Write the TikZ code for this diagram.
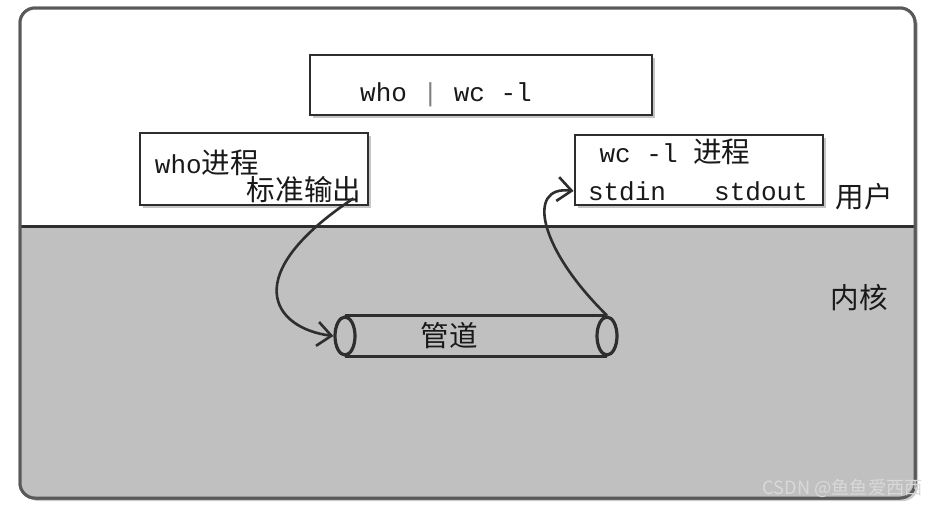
\documentclass[tikz,border=0pt]{standalone}
\usepackage{fontspec}
\setmainfont{Liberation Mono}
\newfontfamily\cjk{Noto Sans CJK SC}[Scale=1.1]
\usetikzlibrary{arrows.meta, shadows, shapes.geometric}
\definecolor{kernel-gray}{HTML}{C0C0C0}
\definecolor{sketch-ink}{HTML}{2E2E2E}

\begin{document}
\begin{tikzpicture}[x=0.5pt, y=-0.5pt,
      every node/.style={font=\fontsize{13}{15}\selectfont, text=black!90},
      box/.style={draw=sketch-ink, line width=1.4pt, fill=white, inner sep=0pt,
        drop shadow={shadow xshift=1.5pt, shadow yshift=-1.5pt, opacity=0.45}},
      pipeend/.style={ellipse, draw=sketch-ink, line width=1.6pt,
        minimum width=10pt, minimum height=19pt, inner sep=0pt},
      flow/.style={draw=sketch-ink, line width=1.3pt,
        -{Straight Barb[length=7pt, width=12pt]}}]
    \useasboundingbox (0,0) rectangle (936,505);
    % frame: user space above, kernel below
    \draw[gray!70!black, line width=1.5pt, rounded corners=7.5pt, fill=white,
          drop shadow={shadow xshift=1.5pt, shadow yshift=-1.5pt, opacity=0.4}]
          (20,8) rectangle (915,498);
    \begin{scope}
      \clip[rounded corners=7.5pt] (20,8) rectangle (915,498);
      \fill[white] (20,8) rectangle (915,226);
      \fill[kernel-gray] (20,226) rectangle (915,498);
    \end{scope}
    \draw[sketch-ink, line width=1.5pt] (20,226) -- (915,226);
    \draw[gray!70!black, line width=1.5pt, rounded corners=7.5pt]
          (20,8) rectangle (915,498);
    % command line
    \node[box, minimum width=171pt, minimum height=30pt] (cmdbox) at (481,85) {};
    \node (cmd) at (446,95) {who \textcolor{gray}{|} wc -l};
    % processes
    \node[box, minimum width=114pt, minimum height=36pt] (whobox) at (254,169) {};
    \node (whoproc) at (207,163) {who{\cjk 进程}};
    \node (whoout) at (304,190) {\cjk 标准输出};
    \node[box, minimum width=124pt, minimum height=35pt] (wcbox) at (699,170) {};
    \node (wcproc) at (675,152) {wc -l {\cjk 进程}};
    \node (stdin) at (627,191) {stdin};
    \node (stdout) at (761,191) {stdout};
    \node (user) at (864,197) {\cjk 用户};
    \node (kernel) at (859,298) {\cjk 内核};
    % the pipe
    \node[pipeend] (pipein) at (345,336) {};
    \node[pipeend] (pipeout) at (607,336) {};
    \draw[sketch-ink, line width=1.6pt] (pipein.north) -- (pipeout.north)
          (pipein.south) -- (pipeout.south);
    \node (pipelabel) at (449,336) {\cjk 管道};
    \draw[flow] ([xshift=-8pt, yshift=4pt]whobox.south east)
          .. controls (238,275) and (272,328) .. (pipein.west);
    \draw[flow] (pipeout.north)
          .. controls (540,250) and (525,185) .. (wcbox.west |- stdin.west);
    \node[font=\fontsize{8.3}{10}\selectfont, text=white!70!gray, anchor=east]
          (mark) at (930,488) {\cjk CSDN @鱼鱼爱西西};
  \end{tikzpicture}
\end{document}
